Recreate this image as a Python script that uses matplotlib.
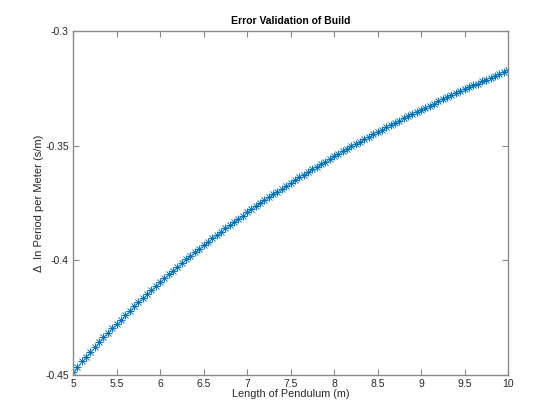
import numpy as np
import matplotlib
matplotlib.use("Agg")
import matplotlib.pyplot as plt

# --- data ---
length = np.linspace(5, 10, 101)
delta_period = [
    -0.4486, -0.4463, -0.4441, -0.4420, -0.4399, -0.4378, -0.4357, -0.4336, -0.4316, -0.4296,
    -0.4277, -0.4258, -0.4239, -0.4220, -0.4201, -0.4183, -0.4165, -0.4147, -0.4129, -0.4112,
    -0.4095, -0.4078, -0.4061, -0.4045, -0.4028, -0.4012, -0.3996, -0.3980, -0.3965, -0.3949,
    -0.3934, -0.3919, -0.3904, -0.3889, -0.3875, -0.3861, -0.3846, -0.3832, -0.3818, -0.3805,
    -0.3791, -0.3778, -0.3764, -0.3751, -0.3738, -0.3725, -0.3712, -0.3700, -0.3687, -0.3675,
    -0.3663, -0.3650, -0.3638, -0.3626, -0.3615, -0.3603, -0.3591, -0.3580, -0.3569, -0.3557,
    -0.3546, -0.3535, -0.3524, -0.3513, -0.3503, -0.3492, -0.3482, -0.3471, -0.3461, -0.3450,
    -0.3440, -0.3430, -0.3420, -0.3410, -0.3401, -0.3391, -0.3381, -0.3372, -0.3362, -0.3353,
    -0.3343, -0.3334, -0.3325, -0.3316, -0.3307, -0.3298, -0.3289, -0.3280, -0.3271, -0.3263,
    -0.3254, -0.3246, -0.3237, -0.3229, -0.3220, -0.3212, -0.3204, -0.3196, -0.3188, -0.3180,
    -0.3172,
]
xticks = [5, 5.5, 6, 6.5, 7, 7.5, 8, 8.5, 9, 9.5, 10]
xtick_labels = ["5", "5.5", "6", "6.5", "7", "7.5", "8", "8.5", "9", "9.5", "10"]
yticks = [-0.45, -0.4, -0.35, -0.3]
ytick_labels = ["-0.45", "-0.4", "-0.35", "-0.3"]

plt.rcParams['font.family'] = ['Liberation Sans', 'DejaVu Sans']

fig = plt.figure(figsize=(5.6, 4.2), dpi=100)
ax = fig.add_axes([0.1304, 0.1071, 0.7768, 0.8190])

col = "#0072BD"
ax.plot(length, delta_period, linestyle="none", marker="+", markersize=6,
        markeredgewidth=0.7, color=col)
ax.plot(length, delta_period, linestyle="none", marker="x", markersize=4.3,
        markeredgewidth=0.7, color=col)

ax.set_xlim(5, 10)
ax.set_ylim(-0.45, -0.3)
ax.set_xticks(xticks)
ax.set_xticklabels(xtick_labels)
ax.set_yticks(yticks)
ax.set_yticklabels(ytick_labels)

axcol = "#8a8a8a"
for s in ax.spines.values():
    s.set_color(axcol)
    s.set_linewidth(1.0)
ax.tick_params(direction="in", length=4, width=0.8, color=axcol,
               top=True, right=True, labelsize=7.5, labelcolor="#262626", pad=3)

ax.set_title("Error Validation of Build", fontsize=7.5, fontweight="bold", pad=5)
ax.set_xlabel("Length of Pendulum (m)", fontsize=7.8, labelpad=0, color="#262626")
ax.set_ylabel("\u0394  In Period per Meter (s/m)", fontsize=8, labelpad=1, color="#262626")

fig.savefig("out.png", dpi=100)
